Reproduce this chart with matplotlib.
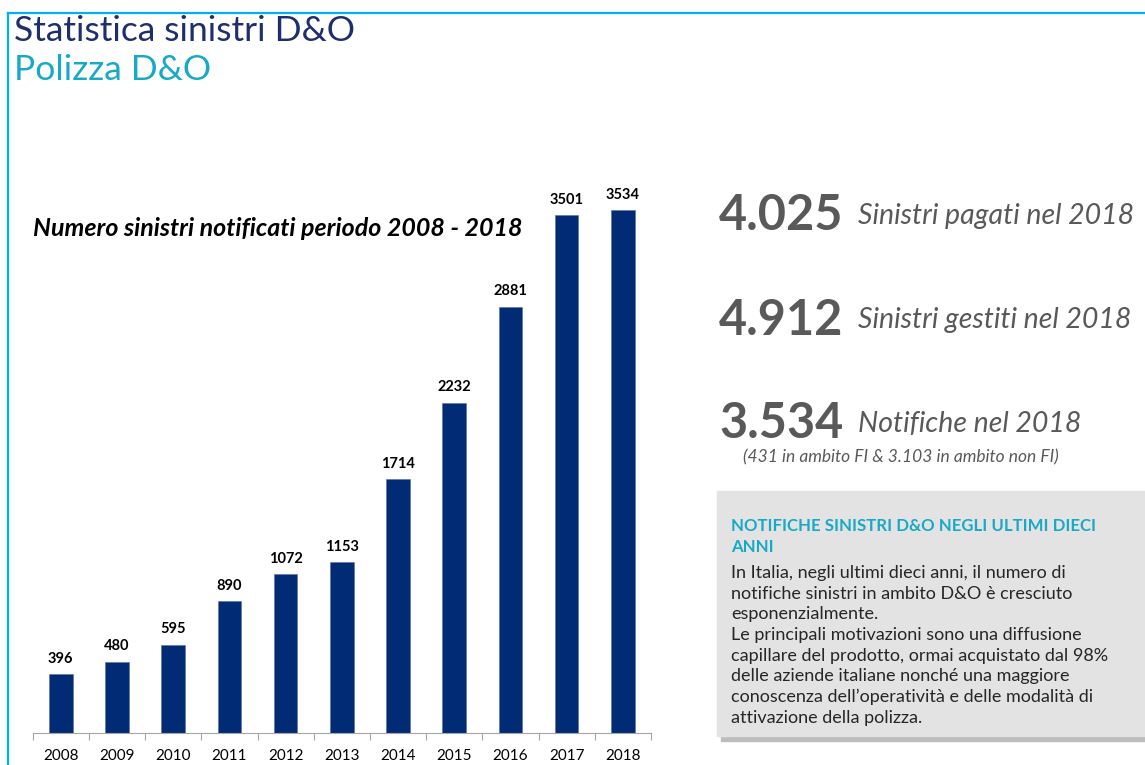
import matplotlib.pyplot as plt
from matplotlib.patches import Rectangle
from matplotlib.lines import Line2D

years = ["2008", "2009", "2010", "2011", "2012", "2013", "2014", "2015", "2016", "2017", "2018"]
notifiche = [396, 480, 595, 890, 1072, 1153, 1714, 2232, 2881, 3501, 3534]

kpi_values = ["4.025", "4.912", "3.534"]
kpi_labels = ["Sinistri pagati nel 2018", "Sinistri gestiti nel 2018", "Notifiche nel 2018"]
kpi_note = "(431 in ambito FI & 3.103 in ambito non FI)"

box_title = ["NOTIFICHE SINISTRI D&O NEGLI ULTIMI DIECI", "ANNI"]
box_lines = [
    "In Italia, negli ultimi dieci anni, il numero di",
    "notifiche sinistri in ambito D&O è cresciuto",
    "esponenzialmente.",
    "Le principali motivazioni sono una diffusione",
    "capillare del prodotto, ormai acquistato dal 98%",
    "delle aziende italiane nonché una maggiore",
    "conoscenza dell\u2019operatività e delle modalità di",
    "attivazione della polizza.",
]

plt.rcParams['font.family'] = ['Lato', 'DejaVu Sans']

W, H = 1145, 765
navy = "#022b76"
teal = "#17a9c6"
gray = "#595959"

fig = plt.figure(figsize=(W / 100, H / 100), dpi=100)


def fx(x):
    return x / W


def fy(y):
    return 1 - y / H


# cyan frame
fig.add_artist(Line2D([fx(8), fx(8)], [fy(13), 0], color="#00b0f0", lw=1.6))
fig.add_artist(Line2D([fx(8), 1], [fy(13), fy(13)], color="#00b0f0", lw=1.6))

# titles
fig.text(fx(14), fy(31), "Statistica sinistri D&O", fontsize=25.5, color="#1f2f6e", va="center")
fig.text(fx(14), fy(70), "Polizza D&O", fontsize=25.5, color=teal, va="center")

# bar chart
ax = fig.add_axes([fx(32.7), fy(732.7), fx(651 - 32.7), (732.7 - 150) / H])
x = range(len(years))
bars = ax.bar(x, notifiche, width=0.42, color=navy, edgecolor="#5a6f9e", linewidth=0.4)
ax.set_xlim(-0.5, len(years) - 0.5)
ax.set_ylim(0, (732.7 - 150) / (522.4 / 3534))
for rect, v in zip(bars, notifiche):
    ax.annotate(str(v), (rect.get_x() + rect.get_width() / 2, v), xytext=(0, 6),
                textcoords="offset points", ha="center", va="bottom",
                fontsize=10.5, fontweight="bold", color="black")
ax.set_xticks([i - 0.5 for i in range(len(years) + 1)], minor=False)
ax.set_xticklabels([])
ax.set_xticks(list(x), minor=True)
ax.set_xticklabels(years, minor=True, fontsize=11)
ax.tick_params(axis="x", which="major", length=5, color="#a6a6a6", direction="out")
ax.tick_params(axis="x", which="minor", length=0, pad=12)
ax.set_yticks([])
for s in ["top", "right", "left"]:
    ax.spines[s].set_visible(False)
ax.spines["bottom"].set_color("#a6a6a6")
ax.patch.set_visible(False)

fig.text(fx(33), fy(229), "Numero sinistri notificati periodo 2008 - 2018",
         fontsize=18, fontweight="bold", fontstyle="italic", va="center")

# KPI block
kpi_y = [216, 320, 424]
for val, lab, yy in zip(kpi_values, kpi_labels, kpi_y):
    fig.text(fx(719), fy(yy), val, fontsize=35, fontweight="bold", color=gray, va="center")
    fig.text(fx(858), fy(yy), lab, fontsize=20.5, fontstyle="italic", color=gray, va="center")
fig.text(fx(743), fy(457), kpi_note, fontsize=12.5, fontstyle="italic", color=gray, va="center")

# grey box with shadow
fig.add_artist(Rectangle((fx(721), fy(741)), fx(W - 721), (741 - 495) / H,
                         transform=fig.transFigure, color="#bdbdbd", zorder=0))
fig.add_artist(Rectangle((fx(717), fy(736)), fx(W - 717), (736 - 491) / H,
                         transform=fig.transFigure, color="#e3e3e3", zorder=1))
for i, t in enumerate(box_title):
    fig.text(fx(731), fy(526 + 21.5 * i), t, fontsize=12.1, fontweight="bold", color=teal,
             va="center", zorder=2)
for i, t in enumerate(box_lines):
    fig.text(fx(731), fy(573 + 20.7 * i), t, fontsize=13, color="#262626", va="center", zorder=2)

fig.savefig("out.png", dpi=100)
